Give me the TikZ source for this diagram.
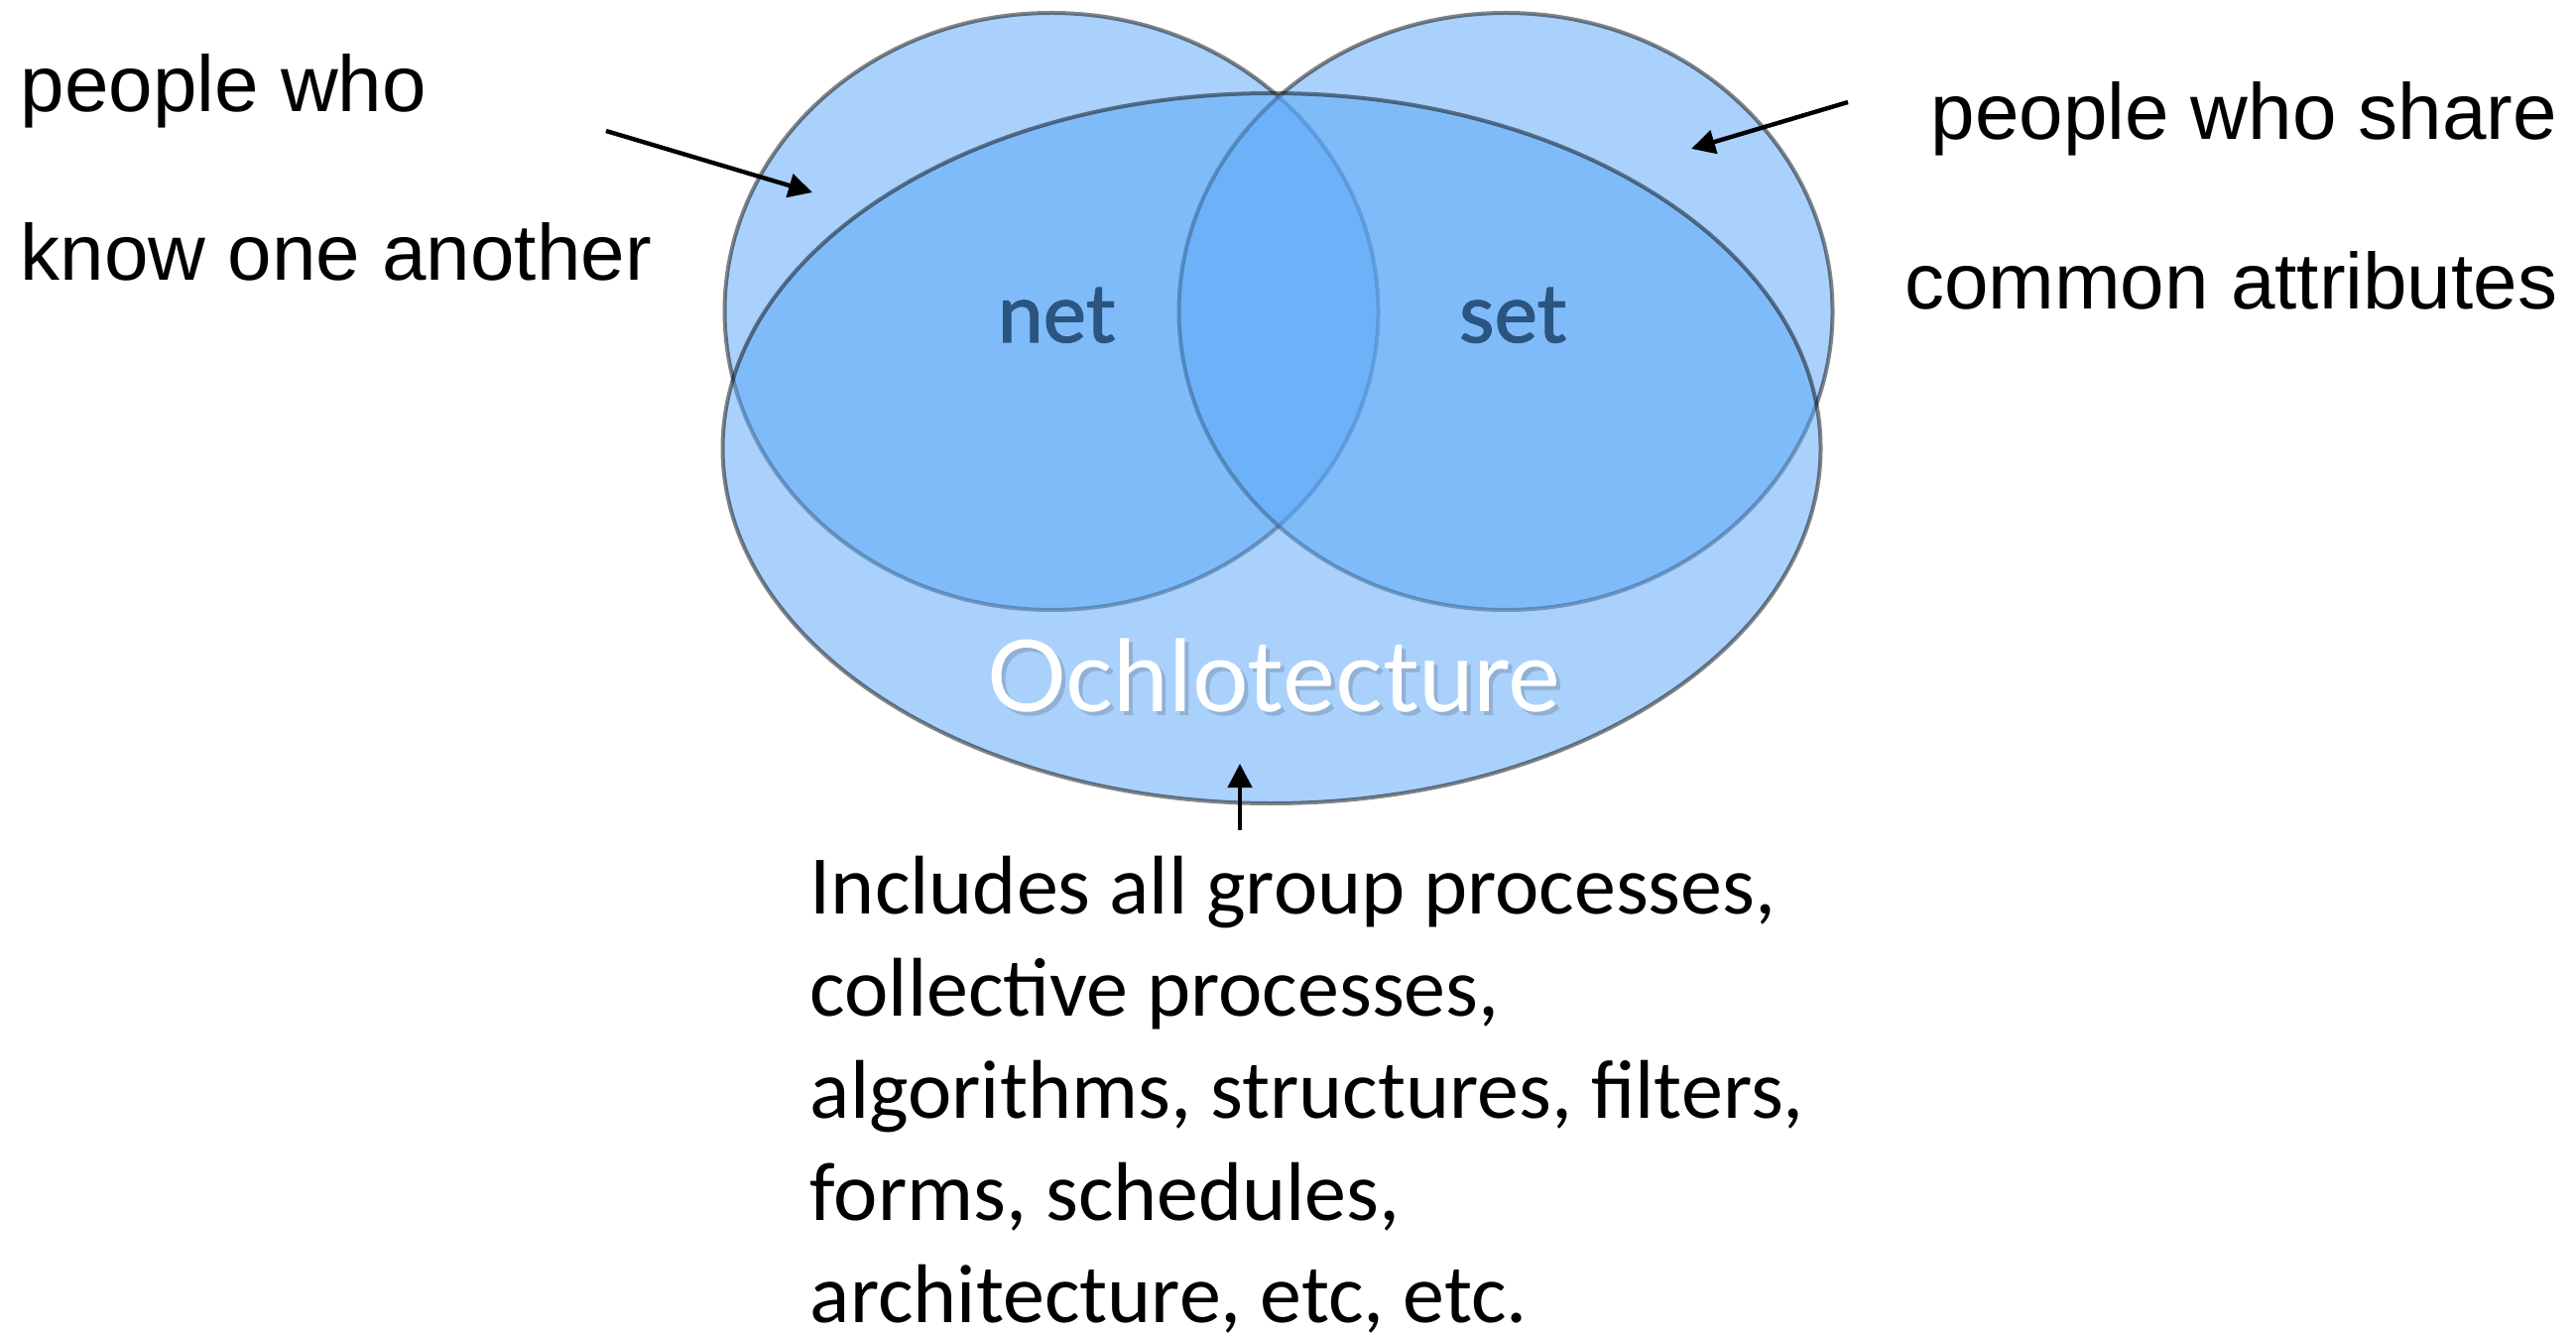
\documentclass[tikz,border=0pt]{standalone}
\usepackage{fontspec}
\setmainfont{Liberation Sans}
\newfontfamily\gillfont{Lato}
\newfontfamily\gillheavy{Lato}[FakeBold=1.6]
\newfontfamily\calfont{Carlito}
\usepackage{xcolor}
\usepackage{tikz}
\usetikzlibrary{arrows.meta}
\usetikzlibrary{shapes.geometric}
\definecolor{vennblue}{RGB}{91,167,247}
\definecolor{labelblue}{RGB}{42,85,128}
\tikzstyle{venn}=[ellipse,inner sep=0pt,fill=vennblue,fill opacity=.52,draw=black,draw opacity=.48,line width=1pt]
\tikzstyle{pointer}=[line width=1.1pt,-{Triangle[length=6pt,width=6pt]}]
\tikzstyle{side}=[inner sep=0pt,font=\fontsize{20}{24}\selectfont]
\tikzstyle{setname}=[inner sep=0pt,anchor=base,text=labelblue,font=\gillheavy\fontsize{20.5}{24}\selectfont]
\begin{document}
\begin{tikzpicture}[x=.25pt,y=-.25pt]
  \useasboundingbox (0,0) rectangle (2597,1346);
  \node[venn,minimum width=164.75pt,minimum height=150.5pt] (net) at (1060,314) {};
  \node[venn,minimum width=164.75pt,minimum height=150.5pt] (set) at (1518,314) {};
  \node[venn,minimum width=276.75pt,minimum height=179pt] (ochlo) at (1282,452) {};
  \node[setname] (netname) at (1065,345) {net};
  \node[setname] (setname) at (1525,345) {set};
  \node[inner sep=0pt,anchor=base,text=black,text opacity=.15,font=\gillfont\fontsize{25}{30}\selectfont] (ochloshadow) at (1288,721) {Ochlotecture};
  \node[inner sep=0pt,anchor=base,text=white,font=\gillfont\fontsize{25}{30}\selectfont] (ochloname) at (1284,717) {Ochlotecture};
  \node[side,anchor=base west] (knowa) at (20,113) {people who};
  \node[side,anchor=base west] (knowb) at (20,283) {know one another};
  \node[side,anchor=base east] (sharea) at (2579,141) {people who share};
  \node[side,anchor=base east] (shareb) at (2579,312) {common attributes};
  \node[inner sep=0pt,anchor=north west,align=left,font=\calfont\fontsize{21}{25.75}\selectfont] (incl) at (816,862)
    {Includes all group processes,\\collective processes,\\algorithms, structures, filters,\\forms, schedules,\\architecture, etc, etc.};
  \coordinate (knowtail) at (611,132);
  \coordinate (knowtip) at (819,194);
  \coordinate (sharetail) at (1863,103);
  \coordinate (sharetip) at (1705,150);
  \coordinate (incltail) at (1250,837);
  \coordinate (incltip) at (1250,770);
  \draw[pointer] (knowtail) -- (knowtip);
  \draw[pointer] (sharetail) -- (sharetip);
  \draw[pointer] (incltail) -- (incltip);
\end{tikzpicture}
\end{document}
